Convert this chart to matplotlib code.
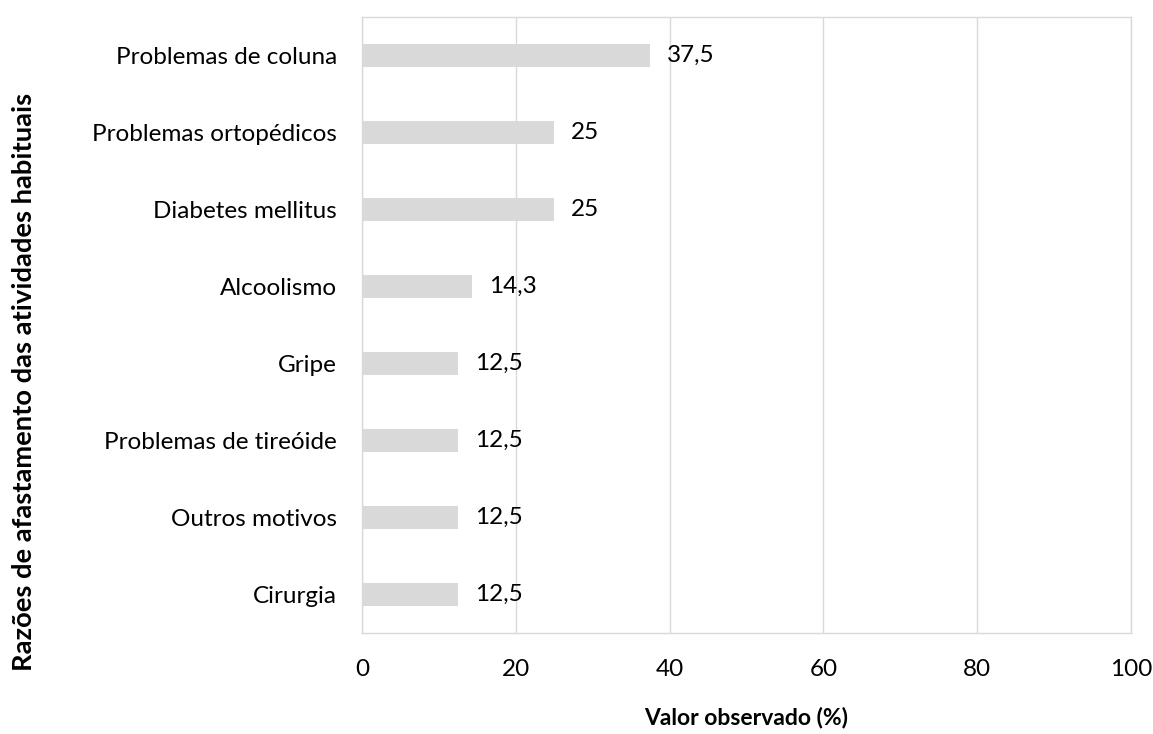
import matplotlib
matplotlib.use("Agg")
import matplotlib.pyplot as plt

categories = ["Problemas de coluna", "Problemas ortopédicos", "Diabetes mellitus",
              "Alcoolismo", "Gripe", "Problemas de tireóide", "Outros motivos", "Cirurgia"]
values = [37.5, 25, 25, 14.3, 12.5, 12.5, 12.5, 12.5]
value_labels = ["37,5", "25", "25", "14,3", "12,5", "12,5", "12,5", "12,5"]
xticks = [0, 20, 40, 60, 80, 100]

plt.rcParams['font.family'] = ['Lato', 'DejaVu Sans']

fig = plt.figure(figsize=(11.53, 7.34), dpi=100)
W, H = 1153, 734
ax = fig.add_axes([362 / W, 1 - 633 / H, (1131 - 362) / W, (633 - 17) / H])

FS = 17.5
ypos = list(range(len(categories)))
ax.barh(ypos, values, height=0.31, color="#d9d9d9", zorder=2)
for y, v, lab in zip(ypos, values, value_labels):
    ax.annotate(lab, (v, y), xytext=(12, 0), textcoords="offset points",
                ha="left", va="center", fontsize=FS, color="black")

ax.set_ylim(len(categories) - 0.5, -0.5)
ax.set_yticks(ypos)
ax.set_yticklabels(categories, fontsize=FS)
ax.set_xlim(0, 100)
ax.set_xticks(xticks)
ax.set_xticklabels([str(t) for t in xticks], fontsize=FS)
ax.tick_params(axis="both", length=0)
ax.tick_params(axis="x", pad=19)
ax.tick_params(axis="y", pad=18)
ax.grid(axis="x", color="#d9d9d9", linewidth=1, zorder=0)
for s in ax.spines.values():
    s.set_color("#d9d9d9")
    s.set_linewidth(1)

fig.text(746 / W, 1 - 718 / H, "Valor observado (%)", ha="center", va="center",
         fontsize=16.5, fontweight="bold")
fig.text(24 / W, 1 - 382 / H, "Razões de afastamento das atividades habituais",
         ha="center", va="center", rotation=90, fontsize=19.7, fontweight="bold")

fig.savefig("out.png", dpi=100)
